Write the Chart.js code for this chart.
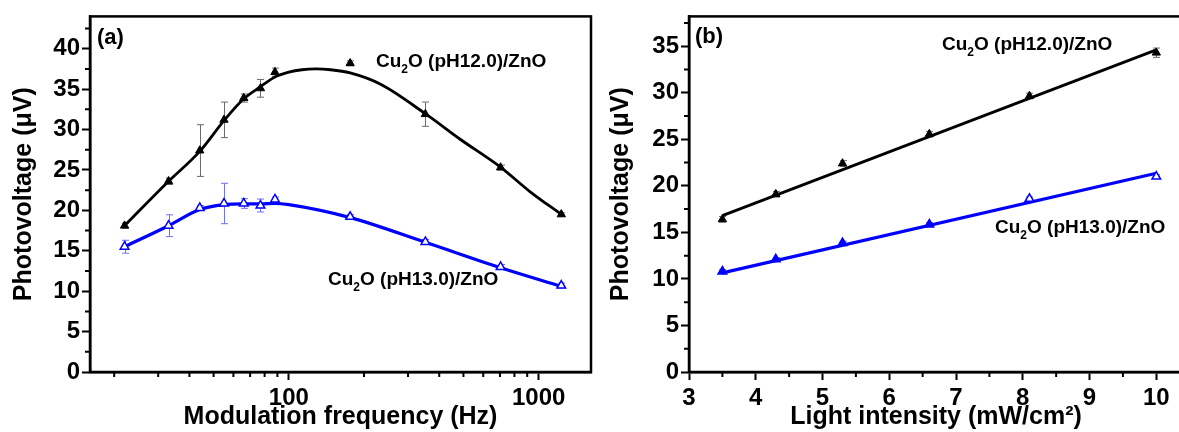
<!DOCTYPE html>
<html><head><meta charset="utf-8">
<script src="https://cdn.jsdelivr.net/npm/chart.js@4.4.0/dist/chart.umd.min.js"></script>
<style>
html,body{margin:0;padding:0;background:#fff;overflow:hidden;width:1179px;height:432px;position:relative;}
#c1{position:absolute;left:0;top:0;}
#c2{position:absolute;left:600px;top:0;}
</style></head><body>
<canvas id="c1" width="600" height="432" style="width:600px;height:432px"></canvas>
<canvas id="c2" width="600" height="432" style="width:600px;height:432px"></canvas>
<script>
// ---------- Panel (a): photovoltage vs modulation frequency ----------
const freqHz      = [22, 33, 44, 55, 66, 77, 88, 176, 352, 704, 1232];
const pvA_pH12    = [18.1, 23.6, 27.4, 31.2, 33.9, 35.1, 37.1, 38.2, 31.9, 25.3, 19.5];
const errA_pH12   = [0.3, 0.4, 3.2, 2.2, 0.5, 1.1, 0.5, 0.3, 1.5, 0.3, 0.2];
const pvA_pH13    = [15.5, 18.1, 20.3, 20.85, 20.85, 20.6, 21.35, 19.2, 16.1, 13.0, 10.7];
const errA_pH13   = [0.8, 1.35, 0.3, 2.5, 0.6, 0.8, 0.3, 0.3, 0.3, 0.3, 0.3];
const fitA_pH12_f = [22, 33, 44, 55, 66, 77, 88, 100, 113, 128, 147, 176, 233, 354, 485, 707, 925, 1232];
const fitA_pH12_v = [18.1, 23.6, 27.3, 31.1, 33.8, 35.3, 36.5, 37.1, 37.4, 37.5, 37.4, 37.0, 35.6, 31.9, 28.8, 25.3, 22.3, 19.5];
const fitA_pH13_f = [22, 33, 44, 55, 66, 77, 88, 100, 176, 352, 704, 1232];
const fitA_pH13_v = [15.5, 18.1, 20.1, 20.7, 20.8, 20.8, 20.85, 20.7, 19.1, 16.05, 12.9, 10.6];
const xTicksA      = [100, 1000];
const xMinorTicksA = [20, 30, 40, 50, 60, 70, 80, 90, 200, 300, 400, 500, 600, 700, 800, 900];
const yTicksA      = [0, 5, 10, 15, 20, 25, 30, 35, 40];
const yMinorTicksA = [2.5, 7.5, 12.5, 17.5, 22.5, 27.5, 32.5, 37.5, 42.5];

// ---------- Panel (b): photovoltage vs light intensity ----------
const intensity   = [3.5, 4.3, 5.3, 6.6, 8.1, 10];
const pvB_pH12    = [16.4, 19.1, 22.4, 25.55, 29.65, 34.3];
const errB_pH12   = [0.3, 0.3, 0.3, 0.3, 0.3, 0.5];
const pvB_pH13    = [10.8, 12.1, 13.85, 15.85, 18.6, 21.0];
const errB_pH13   = [0.2, 0.2, 0.2, 0.2, 0.2, 0.2];
const fitB_x      = [3.5, 10];
const fitB_pH12   = [16.8, 34.6];
const fitB_pH13   = [10.65, 21.35];
const xTicksB      = [3, 4, 5, 6, 7, 8, 9, 10];
const xMinorTicksB = [3.5, 4.5, 5.5, 6.5, 7.5, 8.5, 9.5];
const yTicksB      = [0, 5, 10, 15, 20, 25, 30, 35];
const yMinorTicksB = [2.5, 7.5, 12.5, 17.5, 22.5, 27.5, 32.5, 37.5];

const sampleNames = ['(pH12.0)/ZnO', '(pH13.0)/ZnO'];
const xTitleA = 'Modulation frequency (Hz)';
const xTitleB = 'Light intensity (mW/cm\u00B2)';
const yTitle  = 'Photovoltage (\u03BCV)';

const FONT = '"Liberation Sans", Arial, Helvetica, sans-serif';
const BLUE = '#0000ff';

function pts(xs, ys){ return xs.map((x,i)=>({x:x, y:ys[i]})); }

function drawSample(ctx, x, y, text, size){
  ctx.save();
  ctx.fillStyle = '#000'; ctx.textAlign = 'left'; ctx.textBaseline = 'alphabetic';
  ctx.font = 'bold ' + size + 'px ' + FONT;
  ctx.fillText('Cu', x, y);
  let w = ctx.measureText('Cu').width;
  const ss = Math.round(size*0.62);
  ctx.font = 'bold ' + ss + 'px ' + FONT;
  ctx.fillText('2', x + w, y + size*0.3);
  w += ctx.measureText('2').width;
  ctx.font = 'bold ' + size + 'px ' + FONT;
  ctx.fillText('O ' + text, x + w, y);
  ctx.restore();
}

function decorPlugin(xMinor, yMinor, annotate){
  return {
    id: 'decor',
    beforeDatasetsDraw(chart){
      const ctx = chart.ctx, ys = chart.scales.y;
      chart.data.datasets.forEach((ds, i) => {
        if (!ds.errors) return;
        const meta = chart.getDatasetMeta(i);
        ctx.save();
        ctx.strokeStyle = ds.errorColor; ctx.lineWidth = 1;
        meta.data.forEach((el, j) => {
          const v = ds.data[j].y, e = ds.errors[j];
          const x = Math.round(el.x) + 0.5;
          const t = ys.getPixelForValue(v + e), b = ys.getPixelForValue(v - e);
          ctx.beginPath();
          ctx.moveTo(x, t); ctx.lineTo(x, b);
          ctx.moveTo(x - 3.5, t); ctx.lineTo(x + 3.5, t);
          ctx.moveTo(x - 3.5, b); ctx.lineTo(x + 3.5, b);
          ctx.stroke();
        });
        ctx.restore();
      });
    },
    afterDraw(chart){
      const ctx = chart.ctx, a = chart.chartArea;
      const xs = chart.scales.x, ys = chart.scales.y;
      ctx.save();
      ctx.strokeStyle = '#000';
      ctx.lineWidth = 2.5;
      ctx.strokeRect(a.left, a.top, a.right - a.left, a.bottom - a.top);
      ctx.lineWidth = 2;
      ctx.beginPath();
      xMinor.forEach(v => { const p = xs.getPixelForValue(v); ctx.moveTo(p, a.bottom); ctx.lineTo(p, a.bottom + 5); });
      yMinor.forEach(v => { const p = ys.getPixelForValue(v); if (p < a.top) return; ctx.moveTo(a.left - 5, p); ctx.lineTo(a.left, p); });
      ctx.stroke();
      ctx.restore();
      annotate(ctx, chart);
    }
  };
}

function axisCommon(ticks, pad){
  return {
    afterBuildTicks: s => { s.ticks = ticks.map(v => ({value: v})); },
    ticks: { color: '#000', font: {family: FONT, size: 24, weight: 'bold'}, padding: pad,
             maxRotation: 0, autoSkip: false, callback: v => String(v) },
    grid: { drawOnChartArea: false, drawTicks: true, tickLength: 8, tickWidth: 2, tickColor: '#000' },
    border: { display: true, width: 2.5, color: '#000' }
  };
}
const titleFont = {family: FONT, size: 25, weight: 'bold'};

// ---------- Chart (a) ----------
const xA = Object.assign(axisCommon(xTicksA, 4), {
  type: 'logarithmic', position: 'bottom', min: 16, max: 1620,
  afterFit: s => { s.height = 60; },
  title: { display: true, text: xTitleA, color: '#000', font: titleFont, padding: {top: 0, bottom: 0} }
});
const yA = Object.assign(axisCommon(yTicksA, 2), {
  type: 'linear', position: 'left', min: 0, max: 44,
  afterFit: s => { s.width = 90; },
  title: { display: true, text: yTitle, color: '#000', font: titleFont, padding: {top: 9, bottom: 0} }
});

new Chart(document.getElementById('c1'), {
  type: 'line',
  data: { datasets: [
    { data: pts(freqHz, pvA_pH12), showLine: false, pointStyle: 'triangle', pointRadius: 4.8,
      pointBackgroundColor: '#000', pointBorderColor: '#000', pointBorderWidth: 1,
      errors: errA_pH12, errorColor: '#6b6b6b', order: 0 },
    { data: pts(freqHz, pvA_pH13), showLine: false, pointStyle: 'triangle', pointRadius: 5,
      pointBackgroundColor: '#fff', pointBorderColor: BLUE, pointBorderWidth: 1.5,
      errors: errA_pH13, errorColor: '#6f6fff', order: 0 },
    { data: pts(fitA_pH12_f, fitA_pH12_v), borderColor: '#000', borderWidth: 2.8, pointRadius: 0,
      cubicInterpolationMode: 'monotone', fill: false, order: 1 },
    { data: pts(fitA_pH13_f, fitA_pH13_v), borderColor: BLUE, borderWidth: 3.2, pointRadius: 0,
      cubicInterpolationMode: 'monotone', fill: false, order: 1 }
  ]},
  options: {
    responsive: false, animation: false, devicePixelRatio: 1,
    layout: { padding: {left: 0, right: 9, top: 15, bottom: 0} },
    plugins: { legend: {display: false}, tooltip: {enabled: false} },
    scales: { x: xA, y: yA }
  },
  plugins: [decorPlugin(xMinorTicksA, yMinorTicksA, (ctx) => {
    ctx.save();
    ctx.fillStyle = '#000'; ctx.textAlign = 'left'; ctx.textBaseline = 'middle';
    ctx.font = 'bold 22px ' + FONT;
    ctx.fillText('(a)', 97, 38);
    ctx.restore();
    drawSample(ctx, 376, 67, sampleNames[0], 19);
    drawSample(ctx, 328, 285, sampleNames[1], 19);
  })]
});

// ---------- Chart (b) ----------
const xB = Object.assign(axisCommon(xTicksB, 4), {
  type: 'linear', position: 'bottom', min: 3, max: 10.4,
  afterFit: s => { s.height = 60; },
  title: { display: true, text: xTitleB, color: '#000', font: titleFont, padding: {top: 0, bottom: 0} }
});
const yB = Object.assign(axisCommon(yTicksB, 2), {
  type: 'linear', position: 'left', min: 0, max: 38.2,
  afterFit: s => { s.width = 89; },
  title: { display: true, text: yTitle, color: '#000', font: titleFont, padding: {top: 6.5, bottom: 0} }
});

new Chart(document.getElementById('c2'), {
  type: 'line',
  data: { datasets: [
    { data: pts(intensity, pvB_pH12), showLine: false, pointStyle: 'triangle', pointRadius: 4.8,
      pointBackgroundColor: '#000', pointBorderColor: '#000', pointBorderWidth: 1,
      errors: errB_pH12, errorColor: '#6b6b6b', order: 0 },
    { data: pts(intensity, pvB_pH13), showLine: false, pointStyle: 'triangle', pointRadius: 5,
      pointBackgroundColor: [BLUE, BLUE, BLUE, BLUE, '#fff', '#fff'], pointBorderColor: BLUE, pointBorderWidth: 1.5,
      errors: errB_pH13, errorColor: '#6f6fff', order: 0 },
    { data: pts(fitB_x, fitB_pH12), borderColor: '#000', borderWidth: 2.8, pointRadius: 0, fill: false, order: 1 },
    { data: pts(fitB_x, fitB_pH13), borderColor: BLUE, borderWidth: 3.2, pointRadius: 0, fill: false, order: 1 }
  ]},
  options: {
    responsive: false, animation: false, devicePixelRatio: 1,
    layout: { padding: {left: 0, right: 17, top: 15, bottom: 0} },
    plugins: { legend: {display: false}, tooltip: {enabled: false} },
    scales: { x: xB, y: yB }
  },
  plugins: [decorPlugin(xMinorTicksB, yMinorTicksB, (ctx) => {
    ctx.save();
    ctx.fillStyle = '#000'; ctx.textAlign = 'left'; ctx.textBaseline = 'middle';
    ctx.font = 'bold 22px ' + FONT;
    ctx.fillText('(b)', 95, 37);
    ctx.restore();
    drawSample(ctx, 342, 50, sampleNames[0], 19);
    drawSample(ctx, 395, 233, sampleNames[1], 19);
  })]
});
</script>
</body></html>
